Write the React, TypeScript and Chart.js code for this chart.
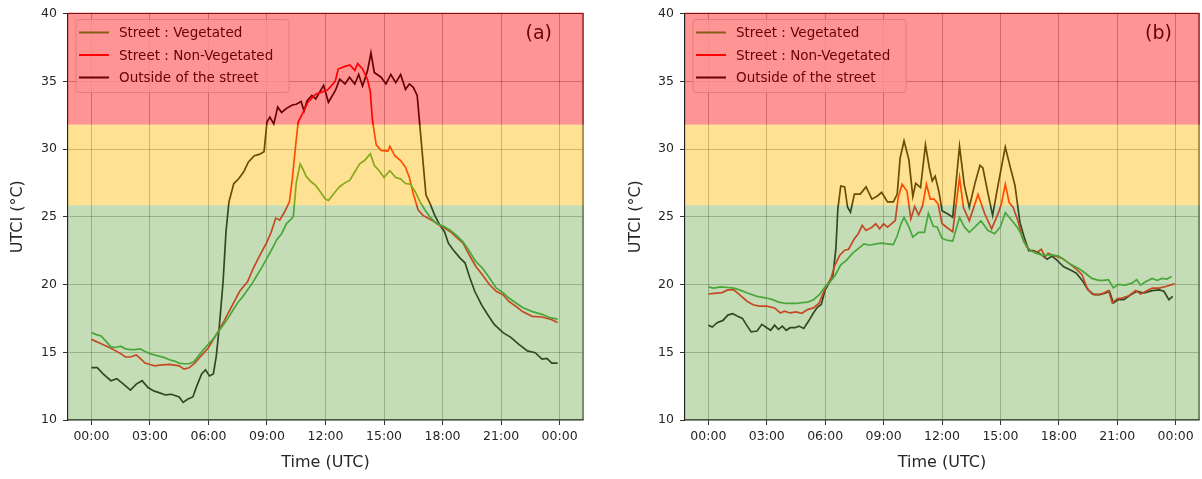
import React, { useEffect, useRef } from "react";
import { Chart, registerables } from "chart.js";

Chart.register(...registerables);

// ---------- data ----------
const tickHours = [0, 3, 6, 9, 12, 15, 18, 21, 24];
const tickLabels = ["00:00", "03:00", "06:00", "09:00", "12:00", "15:00", "18:00", "21:00", "00:00"];
const yTicks = [10, 15, 20, 25, 30, 35, 40];
const bandEdges = [10, 25.85, 31.8, 40];
const seriesNames = ["Street : Vegetated", "Street : Non-Vegetated", "Outside of the street"];

// Panel (a)
const hoursVegA = [0, 0.25, 0.5, 0.75, 1, 1.25, 1.5, 1.75, 2, 2.25, 2.5, 2.75, 3, 3.25, 3.5, 3.75, 4, 4.25, 4.5, 4.75, 5, 5.25, 5.5, 5.75, 6, 6.25, 6.5, 6.75, 7, 7.25, 7.5, 7.75, 8, 8.25, 8.5, 8.75, 9, 9.25, 9.5, 9.75, 10, 10.25, 10.35, 10.5, 10.7, 10.85, 11, 11.25, 11.5, 11.75, 12, 12.15, 12.5, 12.75, 13, 13.25, 13.5, 13.75, 14, 14.3, 14.5, 14.75, 15, 15.3, 15.6, 15.85, 16.1, 16.35, 16.6, 16.85, 17.1, 17.35, 17.7, 18.05, 18.4, 18.7, 19.05, 19.4, 19.7, 20.05, 20.4, 20.75, 21.1, 21.4, 21.75, 22.1, 22.6, 23.1, 23.5, 23.9];
const utciVegA = [16.45, 16.3, 16.2, 15.8, 15.4, 15.35, 15.45, 15.25, 15.2, 15.2, 15.25, 15.05, 14.9, 14.8, 14.7, 14.6, 14.45, 14.35, 14.2, 14.15, 14.15, 14.3, 14.75, 15.2, 15.6, 16.0, 16.5, 17.0, 17.5, 18.1, 18.65, 19.1, 19.6, 20.1, 20.7, 21.3, 21.95, 22.6, 23.3, 23.75, 24.5, 24.85, 25.0, 27.5, 28.9, 28.5, 28.0, 27.6, 27.3, 26.8, 26.3, 26.2, 26.85, 27.25, 27.5, 27.7, 28.3, 28.9, 29.15, 29.65, 28.8, 28.4, 27.9, 28.4, 27.9, 27.8, 27.45, 27.4, 26.85, 26.1, 25.5, 25.0, 24.5, 24.3, 24.0, 23.65, 23.15, 22.4, 21.7, 21.2, 20.5, 19.75, 19.4, 19.0, 18.65, 18.3, 18.0, 17.8, 17.55, 17.45];

const hoursNonA = [0, 0.5, 1, 1.5, 1.75, 2, 2.3, 2.5, 2.75, 3, 3.25, 3.5, 4, 4.5, 4.75, 5, 5.3, 5.6, 6, 6.4, 6.8, 7.2, 7.6, 8, 8.3, 8.6, 9, 9.2, 9.45, 9.65, 9.9, 10.15, 10.3, 10.45, 10.6, 10.85, 11.1, 11.5, 11.8, 12.1, 12.5, 12.65, 13, 13.25, 13.5, 13.65, 13.9, 14.15, 14.3, 14.4, 14.6, 14.85, 15.2, 15.3, 15.55, 15.85, 16.1, 16.3, 16.5, 16.75, 17, 17.45, 17.8, 18.05, 18.4, 18.7, 19.05, 19.4, 19.7, 20.05, 20.4, 20.75, 21.1, 21.4, 21.75, 22.1, 22.6, 23.1, 23.6, 23.9];
const utciNonA = [15.95, 15.63, 15.3, 14.9, 14.65, 14.65, 14.8, 14.55, 14.2, 14.1, 14.0, 14.05, 14.1, 14.0, 13.75, 13.85, 14.2, 14.7, 15.33, 16.3, 17.3, 18.4, 19.5, 20.2, 21.2, 22.05, 23.15, 23.8, 24.9, 24.75, 25.35, 26.1, 27.8, 30.0, 32.0, 32.7, 33.45, 34.05, 34.2, 34.35, 35.0, 35.9, 36.1, 36.2, 35.8, 36.3, 35.9, 35.15, 34.2, 32.2, 30.3, 29.9, 29.85, 30.2, 29.5, 29.15, 28.65, 27.9, 26.7, 25.5, 25.1, 24.75, 24.4, 24.2, 23.9, 23.5, 23.05, 22.1, 21.35, 20.7, 20.0, 19.5, 19.25, 18.75, 18.4, 18.0, 17.65, 17.6, 17.4, 17.2];

const hoursOutA = [0, 0.3, 0.6, 1, 1.3, 1.6, 2, 2.3, 2.6, 2.9, 3.2, 3.5, 3.8, 4.1, 4.5, 4.7, 4.95, 5.2, 5.4, 5.65, 5.85, 6.05, 6.25, 6.4, 6.55, 6.75, 6.9, 7.05, 7.3, 7.55, 7.8, 8.05, 8.35, 8.6, 8.85, 9, 9.15, 9.35, 9.55, 9.75, 10, 10.3, 10.5, 10.75, 10.9, 11.05, 11.3, 11.5, 11.7, 11.9, 12.15, 12.5, 12.73, 13, 13.23, 13.5, 13.7, 13.9, 14.15, 14.33, 14.5, 14.85, 15.1, 15.35, 15.6, 15.85, 16.1, 16.3, 16.5, 16.7, 16.85, 17, 17.15, 17.35, 17.6, 17.85, 18.1, 18.3, 18.55, 18.9, 19.15, 19.4, 19.65, 20, 20.3, 20.65, 21.1, 21.5, 21.9, 22.35, 22.75, 23.1, 23.35, 23.6, 23.9];
const utciOutA = [13.87, 13.87, 13.4, 12.9, 13.05, 12.7, 12.2, 12.65, 12.9, 12.4, 12.15, 12.0, 11.85, 11.9, 11.7, 11.3, 11.55, 11.7, 12.5, 13.4, 13.7, 13.25, 13.4, 14.7, 16.8, 20.2, 23.9, 26.1, 27.45, 27.8, 28.3, 29.05, 29.5, 29.6, 29.8, 32.0, 32.35, 31.85, 33.1, 32.7, 33.0, 33.25, 33.3, 33.5, 32.8, 33.55, 33.95, 33.7, 34.2, 34.7, 33.45, 34.3, 35.15, 34.8, 35.3, 34.8, 35.5, 34.65, 35.75, 37.1, 35.65, 35.3, 34.8, 35.5, 34.9, 35.5, 34.4, 34.8, 34.55, 33.95, 31.5, 29.05, 26.6, 26.0, 25.1, 24.4, 23.9, 23.05, 22.55, 21.95, 21.6, 20.5, 19.5, 18.5, 17.8, 17.05, 16.45, 16.1, 15.6, 15.1, 14.97, 14.5, 14.55, 14.2, 14.2];

// Panel (b)
const hoursVegB = [0, 0.3, 0.6, 1, 1.3, 1.6, 2, 2.5, 3, 3.3, 3.6, 4, 4.5, 4.8, 5.1, 5.4, 5.7, 6, 6.2, 6.5, 6.8, 7.1, 7.4, 7.7, 8, 8.3, 8.6, 8.9, 9.2, 9.5, 9.7, 9.9, 10.05, 10.3, 10.5, 10.8, 11.1, 11.3, 11.55, 11.75, 12, 12.3, 12.55, 12.9, 13.15, 13.4, 13.7, 14, 14.35, 14.7, 15, 15.25, 15.55, 15.85, 16.05, 16.2, 16.5, 16.85, 17.2, 17.55, 18, 18.3, 18.65, 19, 19.35, 19.7, 20.05, 20.3, 20.55, 20.8, 21.05, 21.4, 21.75, 22, 22.2, 22.45, 22.8, 23.05, 23.3, 23.55, 23.8];
const utciVegB = [19.8, 19.73, 19.83, 19.78, 19.73, 19.6, 19.37, 19.12, 19.0, 18.88, 18.7, 18.6, 18.6, 18.66, 18.7, 18.88, 19.25, 19.85, 20.1, 20.65, 21.45, 21.8, 22.3, 22.65, 23.0, 22.9, 23.0, 23.05, 23.0, 22.95, 23.6, 24.5, 24.95, 24.25, 23.5, 23.85, 23.85, 25.25, 24.3, 24.25, 23.4, 23.25, 23.2, 24.95, 24.25, 23.85, 24.25, 24.7, 24.0, 23.75, 24.25, 25.3, 24.8, 24.25, 23.75, 23.15, 22.55, 22.3, 22.15, 22.2, 22.1, 21.8, 21.45, 21.2, 20.85, 20.45, 20.3, 20.3, 20.35, 19.75, 20.0, 19.95, 20.1, 20.35, 19.95, 20.2, 20.45, 20.3, 20.45, 20.4, 20.6];

const hoursNonB = [0, 0.3, 0.7, 1, 1.3, 1.6, 2, 2.3, 2.6, 3, 3.4, 3.7, 3.9, 4.2, 4.5, 4.8, 5.1, 5.4, 5.7, 6, 6.3, 6.5, 6.75, 7, 7.2, 7.5, 7.7, 7.9, 8.1, 8.4, 8.6, 8.8, 9, 9.2, 9.4, 9.6, 9.75, 9.95, 10.2, 10.4, 10.6, 10.8, 11, 11.2, 11.4, 11.6, 11.8, 12, 12.3, 12.55, 12.9, 13.1, 13.4, 13.85, 14.2, 14.55, 14.9, 15.05, 15.25, 15.45, 15.65, 15.9, 16.1, 16.35, 16.6, 16.85, 17.1, 17.3, 17.45, 17.8, 18.15, 18.5, 18.85, 19.2, 19.45, 19.7, 20.05, 20.3, 20.55, 20.75, 21, 21.25, 21.6, 21.95, 22.2, 22.55, 22.8, 23.15, 23.5, 23.75, 23.95];
const utciNonB = [19.3, 19.35, 19.4, 19.6, 19.6, 19.25, 18.75, 18.5, 18.4, 18.4, 18.27, 17.9, 18.03, 17.9, 17.98, 17.88, 18.15, 18.27, 18.64, 19.73, 20.46, 21.43, 22.16, 22.53, 22.6, 23.38, 23.75, 24.36, 23.99, 24.23, 24.48, 24.11, 24.48, 24.23, 24.48, 24.72, 26.42, 27.4, 26.9, 24.84, 25.77, 25.13, 25.8, 27.4, 26.3, 26.3, 25.94, 24.5, 24.15, 23.9, 27.9, 25.7, 24.7, 26.65, 25.2, 24.1, 25.3, 25.95, 27.4, 26.05, 25.7, 24.7, 23.6, 22.77, 22.45, 22.35, 22.6, 22.05, 22.3, 22.1, 21.95, 21.6, 21.2, 20.7, 19.73, 19.3, 19.25, 19.37, 19.55, 18.64, 18.95, 19.0, 19.17, 19.55, 19.3, 19.55, 19.73, 19.73, 19.85, 19.97, 20.05];

const hoursOutB = [0, 0.2, 0.45, 0.75, 1, 1.25, 1.5, 1.75, 2, 2.2, 2.5, 2.75, 3, 3.2, 3.4, 3.6, 3.8, 4, 4.2, 4.45, 4.65, 4.9, 5.15, 5.4, 5.6, 5.8, 6, 6.2, 6.4, 6.55, 6.65, 6.8, 7, 7.15, 7.3, 7.5, 7.8, 8.1, 8.4, 8.7, 8.9, 9.2, 9.5, 9.7, 9.85, 10.05, 10.3, 10.5, 10.65, 10.9, 11.15, 11.35, 11.5, 11.65, 11.85, 12, 12.3, 12.55, 12.9, 13.15, 13.4, 13.7, 13.95, 14.1, 14.35, 14.6, 14.9, 15.25, 15.5, 15.75, 16, 16.2, 16.45, 16.7, 16.95, 17.1, 17.4, 17.65, 17.9, 18.25, 18.6, 18.9, 19.25, 19.5, 19.8, 20.1, 20.4, 20.6, 20.8, 21.05, 21.35, 21.7, 22, 22.35, 22.8, 23.15, 23.4, 23.65, 23.85];
const utciOutB = [17.0, 16.86, 17.18, 17.35, 17.74, 17.84, 17.66, 17.5, 16.93, 16.5, 16.57, 17.06, 16.81, 16.62, 17.0, 16.69, 16.93, 16.62, 16.81, 16.81, 16.93, 16.76, 17.3, 17.91, 18.32, 18.52, 19.61, 20.1, 20.7, 22.65, 25.57, 27.27, 27.2, 25.7, 25.33, 26.67, 26.67, 27.2, 26.3, 26.55, 26.8, 26.1, 26.1, 26.67, 29.34, 30.6, 29.2, 26.5, 27.47, 27.15, 30.3, 28.6, 27.64, 28.0, 26.8, 25.45, 25.2, 24.96, 30.2, 27.3, 25.7, 27.5, 28.8, 28.6, 26.8, 25.1, 27.5, 30.15, 28.7, 27.3, 24.6, 23.6, 22.5, 22.5, 22.35, 22.2, 21.87, 22.1, 21.8, 21.3, 21.07, 20.83, 20.2, 19.6, 19.25, 19.25, 19.37, 19.5, 18.64, 18.88, 18.88, 19.25, 19.5, 19.37, 19.55, 19.6, 19.5, 18.88, 19.12];

// ---------- styles ----------
const FONT = '"DejaVu Sans", sans-serif';
const lineColors = ["#2ca02c", "#ff0000", "#000000"];
const bandColors = ["rgba(114,174,81,0.42)", "rgba(255,183,0,0.42)", "rgba(255,0,0,0.42)"];

const pts = (xs: number[], ys: number[]) => xs.map((x, i) => ({ x, y: ys[i] }));

type PanelProps = {
  tag: string;
  series: { x: number[]; y: number[] }[];
  left: number;
  width: number;
  yAxisWidth: number;
  padRight: number;
  yTitlePad: number;
  tagRight: number;
};

function Panel({ tag, series, left, width, yAxisWidth, padRight, yTitlePad, tagRight }: PanelProps) {
  const ref = useRef<HTMLCanvasElement | null>(null);
  useEffect(() => {
    if (!ref.current) return;
    const overlay = {
      id: "overlay" + tag,
      afterDatasetsDraw(chart: any) {
        const { ctx, chartArea: ca, scales } = chart;
        const y = scales.y;
        ctx.save();
        // top & right spines
        ctx.strokeStyle = "#222";
        ctx.lineWidth = 1.2;
        ctx.beginPath();
        ctx.moveTo(ca.left, ca.top);
        ctx.lineTo(ca.right, ca.top);
        ctx.lineTo(ca.right, ca.bottom);
        ctx.stroke();
        // legend
        const bx = ca.left + 8, by = ca.top + 6, bw = 213, bh = 73;
        ctx.beginPath();
        ctx.roundRect(bx, by, bw, bh, 3);
        ctx.fillStyle = "rgba(255,255,255,0.8)";
        ctx.fill();
        ctx.strokeStyle = "rgba(204,204,204,0.8)";
        ctx.lineWidth = 1;
        ctx.stroke();
        ctx.font = `13.5px ${FONT}`;
        ctx.textAlign = "left";
        ctx.textBaseline = "middle";
        seriesNames.forEach((name, i) => {
          const ry = by + 13 + i * 22.5;
          ctx.strokeStyle = lineColors[i];
          ctx.lineWidth = 2;
          ctx.beginPath();
          ctx.moveTo(bx + 3, ry);
          ctx.lineTo(bx + 33, ry);
          ctx.stroke();
          ctx.fillStyle = "#000";
          ctx.fillText(name, bx + 43, ry + 1);
        });
        // panel tag
        ctx.font = `19px ${FONT}`;
        ctx.textAlign = "right";
        ctx.fillStyle = "#000";
        ctx.fillText(tag, ca.right - tagRight, ca.top + 21);
        // comfort bands overlay
        for (let i = 0; i < bandColors.length; i++) {
          const yTop = y.getPixelForValue(bandEdges[i + 1]);
          const yBot = y.getPixelForValue(bandEdges[i]);
          ctx.fillStyle = bandColors[i];
          const t = i === bandColors.length - 1 ? yTop - 1 : yTop;
          ctx.fillRect(ca.left, t, ca.right - ca.left + 1, yBot - t);
        }
        ctx.restore();
      },
    };
    const chart = new Chart(ref.current, {
      type: "line",
      data: {
        datasets: series.map((s, i) => ({
          label: seriesNames[i],
          data: pts(s.x, s.y),
          borderColor: lineColors[i],
          backgroundColor: lineColors[i],
          borderWidth: 1.7,
          pointRadius: 0,
          tension: 0,
          fill: false,
        })),
      },
      options: {
        animation: false,
        responsive: false,
        devicePixelRatio: 1,
        layout: { padding: { left: 0, right: padRight, top: 11, bottom: 0 } },
        plugins: { legend: { display: false }, tooltip: { enabled: false } },
        scales: {
          x: {
            type: "linear",
            min: -1.2,
            max: 25.2,
            afterBuildTicks: (s: any) => {
              s.ticks = tickHours.map((v) => ({ value: v }));
            },
            afterFit: (s: any) => {
              s.height = 59;
            },
            ticks: {
              autoSkip: false,
              maxRotation: 0,
              padding: 4,
              color: "#262626",
              font: { family: FONT, size: 12.5 },
              callback: (_v: any, i: number) => tickLabels[i],
            },
            grid: { color: "rgba(0,0,0,0.3)", lineWidth: 1, tickLength: 5, tickColor: "#333", drawTicks: true },
            border: { display: true, color: "#222", width: 1.2 },
            title: {
              display: true,
              text: "Time (UTC)",
              color: "#262626",
              font: { family: FONT, size: 16 },
              padding: { top: 0, bottom: 7 },
            },
          },
          y: {
            type: "linear",
            min: 10,
            max: 40,
            afterBuildTicks: (s: any) => {
              s.ticks = yTicks.map((v) => ({ value: v }));
            },
            afterFit: (s: any) => {
              s.width = yAxisWidth;
            },
            ticks: {
              padding: 6,
              color: "#262626",
              font: { family: FONT, size: 12.5 },
              callback: (v: any) => String(v),
            },
            grid: { color: "rgba(0,0,0,0.3)", lineWidth: 1, tickLength: 5, tickColor: "#333", drawTicks: true },
            border: { display: true, color: "#222", width: 1.2 },
            title: {
              display: true,
              text: "UTCI (°C)",
              color: "#262626",
              font: { family: FONT, size: 16 },
              padding: { top: yTitlePad, bottom: 0 },
            },
          },
        },
      },
      plugins: [overlay],
    } as any);
    return () => chart.destroy();
  }, []);
  return (
    <canvas
      ref={ref}
      width={width}
      height={479}
      style={{ position: "absolute", left, top: 0, width, height: 479 }}
    />
  );
}

export default function App() {
  const seriesA = [
    { x: hoursVegA, y: utciVegA },
    { x: hoursNonA, y: utciNonA },
    { x: hoursOutA, y: utciOutA },
  ];
  const seriesB = [
    { x: hoursVegB, y: utciVegB },
    { x: hoursNonB, y: utciNonB },
    { x: hoursOutB, y: utciOutB },
  ];
  return (
    <div style={{ position: "absolute", left: 0, top: 0, width: 1202, height: 479, background: "#fff" }}>
      <Panel tag="(a)" series={seriesA} left={0} width={600} yAxisWidth={68} padRight={17} yTitlePad={8} tagRight={31} />
      <Panel tag="(b)" series={seriesB} left={600} width={602} yAxisWidth={85} padRight={3} yTitlePad={26} tagRight={27} />
    </div>
  );
}
